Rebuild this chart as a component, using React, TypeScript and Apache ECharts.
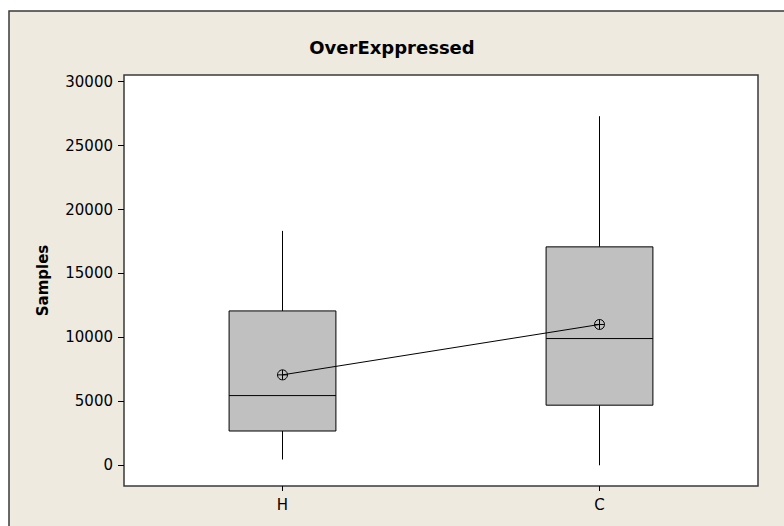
import React, { useEffect, useRef } from "react";
import * as echarts from "echarts";

const categories = ["H", "C"];
const whiskerLow = [450, 0];
const q1 = [2680, 4700];
const median = [5450, 9910];
const q3 = [12070, 17080];
const whiskerHigh = [18330, 27300];
const means = [7070, 11010];
const yTicks = [0, 5000, 10000, 15000, 20000, 25000, 30000];

const FONT = "DejaVu Sans";

export default function App() {
  const ref = useRef<HTMLDivElement>(null);
  useEffect(() => {
    document.body.style.margin = "0";
    const chart = echarts.init(ref.current!, null, { renderer: "svg" });
    const boxData = categories.map((c, i) => [i, whiskerLow[i], q1[i], median[i], q3[i], whiskerHigh[i]]);
    chart.setOption({
      animation: false,
      backgroundColor: "#ffffff",
      graphic: [
        {
          type: "rect",
          z: -10,
          silent: true,
          shape: { x: 9, y: 11, width: 780, height: 520 },
          style: { fill: "#EEEAE0" },
        },
        {
          type: "polyline",
          z: -9,
          silent: true,
          shape: { points: [[9, 530], [9, 11], [790, 11]] },
          style: { fill: null, stroke: "#3a3a3a", lineWidth: 1.5 },
        },
      ],
      title: {
        text: "OverExppressed",
        left: "center",
        top: 38,
        padding: 0,
        textStyle: { fontFamily: FONT, fontWeight: "bold", fontSize: 18, color: "#000" },
      },
      grid: {
        left: 124,
        top: 75,
        right: 26,
        bottom: 40,
        show: true,
        backgroundColor: "#ffffff",
        borderColor: "#3a3a3a",
        borderWidth: 1.5,
      },
      xAxis: {
        type: "category",
        data: categories,
        boundaryGap: true,
        axisLine: { show: false, onZero: false },
        axisTick: { show: true, alignWithLabel: true, length: 5, lineStyle: { color: "#000" } },
        axisLabel: { fontFamily: FONT, fontSize: 15, color: "#000", margin: 11 },
        splitLine: { show: false },
      },
      yAxis: {
        type: "value",
        min: -1620,
        max: 30520,
        name: "Samples",
        nameLocation: "middle",
        nameGap: 74,
        nameTextStyle: { fontFamily: FONT, fontWeight: "bold", fontSize: 15, color: "#000" },
        axisLine: { show: false, onZero: false },
        axisTick: { show: true, length: 6, customValues: yTicks, lineStyle: { color: "#000" } },
        axisLabel: {
          fontFamily: FONT,
          fontSize: 15,
          color: "#000",
          margin: 11,
          customValues: yTicks,
          formatter: (v: number) => String(v),
        },
        splitLine: { show: false },
      },
      series: [
        {
          type: "custom",
          name: "box",
          data: boxData,
          encode: { x: 0, y: [1, 2, 3, 4, 5] },
          z: 2,
          renderItem: (params: any, api: any) => {
            const x = api.value(0);
            const lo = api.coord([x, api.value(1)]);
            const b1 = api.coord([x, api.value(2)]);
            const md = api.coord([x, api.value(3)]);
            const b3 = api.coord([x, api.value(4)]);
            const hi = api.coord([x, api.value(5)]);
            const w = api.size([1, 0])[0] * 0.337;
            const cx = lo[0];
            const l = cx - w / 2;
            const r = cx + w / 2;
            const stroke = { stroke: "#000", lineWidth: 1 };
            return {
              type: "group",
              children: [
                { type: "line", shape: { x1: cx, y1: hi[1], x2: cx, y2: b3[1] }, style: stroke },
                { type: "line", shape: { x1: cx, y1: b1[1], x2: cx, y2: lo[1] }, style: stroke },
                {
                  type: "rect",
                  shape: { x: l, y: b3[1], width: w, height: b1[1] - b3[1] },
                  style: { fill: "#C0C0C0", stroke: "#000", lineWidth: 1 },
                },
                { type: "line", shape: { x1: l, y1: md[1], x2: r, y2: md[1] }, style: stroke },
              ],
            };
          },
        },
        {
          type: "line",
          data: means,
          symbol: "none",
          z: 3,
          lineStyle: { color: "#000", width: 1 },
        },
        {
          type: "custom",
          data: means.map((m, i) => [i, m]),
          encode: { x: 0, y: 1 },
          z: 4,
          renderItem: (params: any, api: any) => {
            const p = api.coord([api.value(0), api.value(1)]);
            const r = 5;
            const s = { stroke: "#000", lineWidth: 1, fill: "none" };
            return {
              type: "group",
              children: [
                { type: "circle", shape: { cx: p[0], cy: p[1], r }, style: s },
                { type: "line", shape: { x1: p[0] - r, y1: p[1], x2: p[0] + r, y2: p[1] }, style: s },
                { type: "line", shape: { x1: p[0], y1: p[1] - r, x2: p[0], y2: p[1] + r }, style: s },
              ],
            };
          },
        },
      ],
    });
    return () => chart.dispose();
  }, []);
  return <div ref={ref} style={{ width: 784, height: 526 }} />;
}
